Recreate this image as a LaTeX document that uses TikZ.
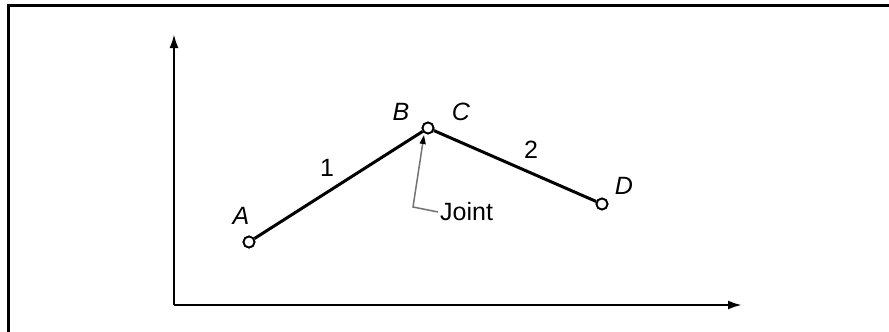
\documentclass[tikz,border=0pt]{standalone}
\usepackage{fontspec}
\setmainfont{Liberation Sans}
\usetikzlibrary{arrows.meta}
\begin{document}
\begin{tikzpicture}[x=1pt,y=-1pt,
  pin/.style={circle,draw,fill=white,line width=1.8pt,minimum size=11pt,inner sep=0pt},
  link/.style={line width=3pt},
  axis/.style={line width=2.4pt,-{Latex[length=14pt,width=9pt]}},
  lbl/.style={font=\fontsize{25}{30}\selectfont\itshape},
  num/.style={font=\fontsize{25}{30}\selectfont},
  leader/.style={draw=black!55,line width=1.5pt}]
\useasboundingbox (0,0) rectangle (889,332);
\draw[line width=3pt] (8,332) -- (8,5) -- (889,5);
\coordinate (O) at (174,305);
\coordinate (ytip) at (174,34);
\coordinate (xtip) at (742,305);
\draw[axis] (O) -- (ytip);
\draw[axis] (O) -- (xtip);
\node[pin] (A) at (249,242) {};
\node[pin] (B) at (428,128) {};
\node[pin] (D) at (602,204) {};
\draw[link] (A) -- (B);
\draw[link] (B) -- (D);
\node[pin] at (A) {};
\node[pin] at (B) {};
\node[pin] at (D) {};
\node[lbl] (la) at (241,216) {A};
\node[lbl] (lb) at (401,112) {B};
\node[lbl] (lc) at (461,112) {C};
\node[lbl] (ld) at (624,186) {D};
\node[num] (n1) at (327,168) {1};
\node[num] (n2) at (531,150) {2};
\node[num,anchor=west,inner sep=2pt] (joint) at (438,212) {Joint};
\coordinate (k1) at (413,207);
\coordinate (k2) at (424,135);
\draw[leader,-{Triangle[length=9pt,width=6pt,color=black]}] (joint.west) -- (k1) -- (k2);
\end{tikzpicture}
\end{document}
